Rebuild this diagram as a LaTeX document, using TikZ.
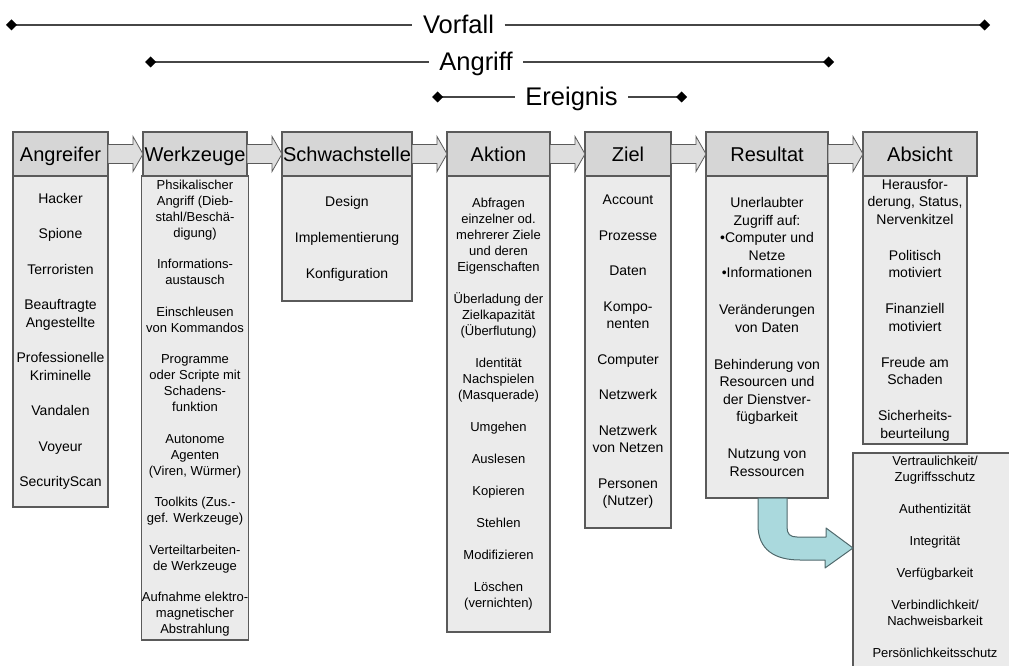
\documentclass[tikz,border=0pt]{standalone}
\usepackage{fontspec}
\setmainfont{Liberation Sans}
\usetikzlibrary{arrows.meta,calc,positioning}

\definecolor{kopfgrau}{RGB}{214,214,214}
\definecolor{listengrau}{RGB}{235,235,235}
\definecolor{randgrau}{RGB}{90,90,90}
\definecolor{liniengrau}{RGB}{70,70,70}
\definecolor{pfeilgrau}{RGB}{222,222,222}
\definecolor{tuerkis}{RGB}{170,217,221}
\definecolor{tuerkisrand}{RGB}{80,105,108}

\begin{document}
\begin{tikzpicture}[x=1pt,y=-1pt,node distance=35pt]

    \tikzstyle{kopf}=[draw=randgrau,fill=kopfgrau,line width=1.2pt,outer sep=0pt,
        minimum height=44pt,inner xsep=0pt,text height=14.5pt,text depth=0pt,
        font=\fontsize{20}{24}\selectfont]
    \tikzstyle{liste}=[draw=randgrau,fill=listengrau,line width=1.2pt,outer sep=0pt,
        anchor=north,align=center,inner sep=0pt,font=\fontsize{14}{17.5}\selectfont]
    \tikzstyle{listeklein}=[liste,font=\fontsize{13}{16}\selectfont]
    \tikzstyle{marke}=[inner xsep=10.5pt,inner ysep=0pt,text height=18pt,text depth=0pt,
        font=\fontsize{25.5}{30}\selectfont]
    \tikzstyle{zeitlinie}=[draw=liniengrau,line width=1.2pt,
        >={Diamond[length=11pt,width=11pt,black]}]
    \tikzstyle{blockpfeil}=[draw=randgrau,fill=pfeilgrau,line width=0.8pt,
        to path={let \p1=(\tikztostart), \p2=(\tikztotarget) in
        (\x1,\y1+9.5pt) -- (\x2-10pt,\y1+9.5pt) -- (\x2-10pt,\y1+17.5pt) -- (\x2,\y1)
        -- (\x2-10pt,\y1-17.5pt) -- (\x2-10pt,\y1-9.5pt) -- (\x1,\y1-9.5pt) -- cycle}]
    \tikzstyle{schwenkpfeil}=[draw=tuerkisrand,fill=tuerkis,line width=1pt,line join=round]

    \useasboundingbox (0,0) rectangle (1009,666);

    % Vorfall, Angriff, Ereignis
    \foreach \n/\t/\a/\m/\b/\y in {vorfall/Vorfall/6/458.5/990/25,
                                  angriff/Angriff/145/476/834/62,
                                  ereignis/Ereignis/432/571.5/687/97} {
        \coordinate (\n A) at (\a,\y);
        \coordinate (\n B) at (\b,\y);
        \node[marke] (\n) at (\m,\y) {\t};
        \draw[zeitlinie,<-] (\n A) -- (\n);
        \draw[zeitlinie,->] (\n) -- (\n B);
    }

    % Kopfzeilen
    \node[kopf,minimum width=95pt]  (angreifer)                         at (60.5,154) {Angreifer};
    \node[kopf,minimum width=104pt] (werkzeuge)     [right=of angreifer]     {Werkzeuge};
    \node[kopf,minimum width=130pt] (schwachstelle) [right=of werkzeuge]     {Schwachstelle};
    \node[kopf,minimum width=103pt] (aktion)        [right=of schwachstelle] {Aktion};
    \node[kopf,minimum width=86pt]  (ziel)          [right=of aktion]        {Ziel};
    \node[kopf,minimum width=122pt] (resultat)      [right=of ziel]          {Resultat};
    \node[kopf,minimum width=114pt] (absicht)       [right=of resultat]      {Absicht};

    % Listen
    \node[liste,minimum width=95pt,minimum height=331pt] (angreiferL) at (angreifer.south)
        {Hacker\\[18pt]Spione\\[18pt]Terroristen\\[18pt]Beauftragte\\Angestellte\\[18pt]Professionelle\\Kriminelle\\[18pt]Vandalen\\[18pt]Voyeur\\[18pt]SecurityScan};
    \node[listeklein,minimum width=104pt,minimum height=464pt] (werkzeugeL) at (werkzeuge.south)
        {Phsikalischer\\Angriff (Dieb-\\stahl/Beschä-\\digung)\\[15.5pt]Informations-\\austausch\\[15.5pt]Einschleusen\\von Kommandos\\[15.5pt]Programme\\oder Scripte mit\\Schadens-\\funktion\\[15.5pt]Autonome\\Agenten\\(Viren, Würmer)\\[15.5pt]Toolkits (Zus.-\\gef. Werkzeuge)\\[15.5pt]Verteiltarbeiten-\\de Werkzeuge\\[15.5pt]Aufnahme elektro-\\magnetischer\\Abstrahlung};
    \node[liste,minimum width=130pt,minimum height=125pt] (schwachstelleL) at (schwachstelle.south)
        {Design\\[18.5pt]Implementierung\\[18.5pt]Konfiguration};
    \node[listeklein,minimum width=103pt,minimum height=456pt] (aktionL) at (aktion.south)
        {Abfragen\\einzelner od.\\mehrerer Ziele\\und deren\\Eigenschaften\\[16pt]Überladung der\\Zielkapazität\\(Überflutung)\\[16pt]Identität\\Nachspielen\\(Masquerade)\\[16pt]Umgehen\\[16pt]Auslesen\\[16pt]Kopieren\\[16pt]Stehlen\\[16pt]Modifizieren\\[16pt]Löschen\\(vernichten)};
    \node[liste,minimum width=86pt,minimum height=352pt] (zielL) at (ziel.south)
        {Account\\[18pt]Prozesse\\[18pt]Daten\\[18pt]Kompo-\\nenten\\[18pt]Computer\\[18pt]Netzwerk\\[18pt]Netzwerk\\von Netzen\\[18pt]Personen\\(Nutzer)};
    \node[liste,minimum width=122pt,minimum height=322pt] (resultatL) at (resultat.south)
        {Unerlaubter\\Zugriff auf:\\•Computer und\\Netze\\•Informationen\\[19.5pt]Veränderungen\\von Daten\\[19.5pt]Behinderung von\\Resourcen und\\der Dienstver-\\fügbarkeit\\[19.5pt]Nutzung von\\Ressourcen};
    \node[liste,anchor=north west,minimum width=104pt,minimum height=268pt] (absichtL) at (absicht.south west)
        {Herausfor-\\derung, Status,\\Nervenkitzel\\[18.5pt]Politisch\\motiviert\\[18.5pt]Finanziell\\motiviert\\[18.5pt]Freude am\\Schaden\\[18.5pt]Sicherheits-\\beurteilung};

    % Schutzziele
    \node[liste,anchor=north west,minimum width=170pt,minimum height=224pt] (schutzziele) at (853,453) {};
    \node[listeklein,draw=none,fill=none] (schutzzieleT) at (935,456)
        {Vertraulichkeit/\\Zugriffsschutz\\[16pt]Authentizität\\[16pt]Integrität\\[16pt]Verfügbarkeit\\[16pt]Verbindlichkeit/\\Nachweisbarkeit\\[16pt]Persönlichkeitsschutz};

    % Pfeile
    \foreach \a/\b in {angreifer/werkzeuge,werkzeuge/schwachstelle,schwachstelle/aktion,
                       aktion/ziel,ziel/resultat,resultat/absicht}
        \path[blockpfeil] (\a.east) to (\b.west);

    \draw[schwenkpfeil] ([xshift=-9pt]resultatL.south) -- ++(0,27)
        .. controls +(0,25) and +(-25,0) .. ++(42,35) -- ++(25,0) -- ++(0,8)
        -- ([yshift=17pt]schutzziele.west) -- ++(-27,-20) -- ++(0,9) -- ++(-29,0)
        .. controls +(-7,0) and +(0,7) .. ++(-10,-10) -- ([xshift=20pt]resultatL.south) -- cycle;

\end{tikzpicture}
\end{document}
